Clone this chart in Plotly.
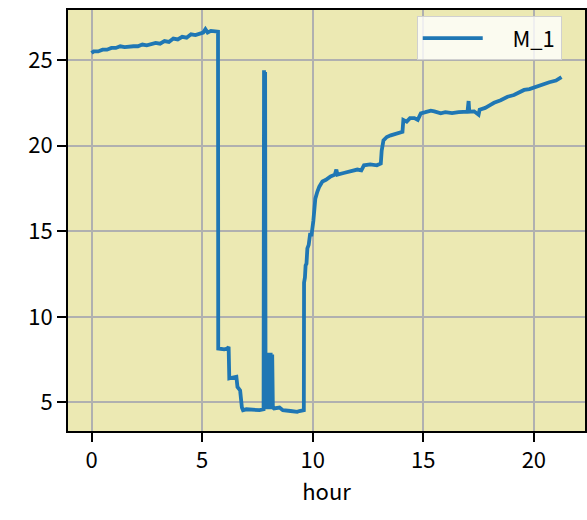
import plotly.graph_objects as go

# hourly readings for sensor M_1
hours = [0.0, 0.1, 0.3, 0.5, 0.7, 0.9, 1.1, 1.3, 1.5, 1.7, 1.9, 2.1, 2.3, 2.5, 2.7, 2.9,
         3.1, 3.3, 3.5, 3.7, 3.9, 4.1, 4.3, 4.5, 4.7, 4.9, 5.05, 5.15, 5.25, 5.4, 5.55, 5.72,
         5.73, 6.0, 6.15, 6.2, 6.23, 6.5, 6.55, 6.6, 6.72, 6.8, 6.85, 7.0, 7.3, 7.6, 7.78,
         7.8, 7.82, 7.85, 7.87, 7.9, 7.93, 7.96, 8.0, 8.03, 8.06, 8.1, 8.13, 8.17, 8.2, 8.25,
         8.5, 8.65, 9.0, 9.3, 9.4, 9.6, 9.61, 9.65, 9.68, 9.72, 9.76, 9.82, 9.88, 9.95, 10.03,
         10.07, 10.12, 10.21, 10.3, 10.44, 10.6, 10.81, 11.0, 11.07, 11.12, 11.4, 11.6, 11.8,
         12.02, 12.2, 12.32, 12.6, 12.9, 13.08, 13.12, 13.2, 13.35, 13.53, 13.7, 13.8, 14.06,
         14.1, 14.25, 14.4, 14.6, 14.75, 14.89, 15.1, 15.34, 15.5, 15.79, 16.0, 16.3, 16.6,
         17.0, 17.05, 17.08, 17.3, 17.5, 17.55, 17.8, 18.0, 18.2, 18.5, 18.81, 19.1, 19.35,
         19.56, 19.8, 20.1, 20.39, 20.7, 21.0, 21.15, 21.25]
m_1 = [25.4, 25.5, 25.5, 25.6, 25.6, 25.7, 25.7, 25.8, 25.75, 25.8, 25.8, 25.8, 25.9, 25.85,
       25.95, 26.0, 25.95, 26.1, 26.05, 26.25, 26.2, 26.35, 26.3, 26.5, 26.45, 26.55, 26.6,
       26.8, 26.6, 26.7, 26.65, 26.65,
       8.15, 8.1, 8.15, 8.25, 6.4, 6.45, 6.5, 5.9, 5.7, 4.7, 4.55, 4.6, 4.55, 4.55, 4.6,
       24.4, 4.6, 24.3, 4.7, 7.9, 4.6, 7.9, 4.7, 7.9, 4.6, 7.9, 4.7, 7.8, 4.7, 4.65,
       4.7, 4.55, 4.5, 4.45, 4.5, 4.55, 12.0, 12.3, 13.0, 13.1, 14.0, 14.2, 14.8, 14.8, 15.6,
       16.6, 16.9, 17.3, 17.6, 17.9, 18.0, 18.2, 18.3, 18.6, 18.3, 18.4, 18.45, 18.5,
       18.6, 18.55, 18.85, 18.9, 18.85, 18.95, 19.7, 20.3, 20.5, 20.6, 20.65, 20.7, 20.8,
       21.5, 21.4, 21.6, 21.6, 21.5, 21.88, 21.95, 22.04, 22.0, 21.88, 21.95, 21.9, 21.95,
       21.98, 22.6, 21.98, 22.0, 21.8, 22.1, 22.2, 22.35, 22.5, 22.65, 22.85, 22.95, 23.1,
       23.25, 23.3, 23.45, 23.55, 23.7, 23.8, 23.9, 24.0]

x_ticks = [0, 5, 10, 15, 20]
y_ticks = [5, 10, 15, 20, 25]


def padded(vals, frac=0.05):
    lo, hi = min(vals), max(vals)
    pad = (hi - lo) * frac
    return [lo - pad, hi + pad]


fig = go.Figure()
fig.add_trace(go.Scatter(x=hours, y=m_1, mode='lines', name='\u00a0\u00a0\u00a0\u00a0\u00a0M_1',
                         line=dict(color='#1f77b4', width=3.8)))

axis_style = dict(showline=True, linecolor='black', linewidth=2, mirror=True,
                  showgrid=True, gridcolor='#b0b0b0', gridwidth=2, zeroline=False,
                  ticks='outside', ticklen=9, tickwidth=2, tickcolor='black',
                  tickfont=dict(size=22, color='black'), automargin=False)

fig.update_xaxes(range=padded(hours), tickvals=x_ticks, title_text='hour',
                 title_font=dict(size=22, color='black'), title_standoff=10, **axis_style)
fig.update_yaxes(range=padded(m_1), tickvals=y_ticks, **axis_style)

fig.update_layout(
    width=587, height=520,
    margin=dict(l=68, r=2, t=10, b=89),
    paper_bgcolor='white',
    plot_bgcolor='#ece9b3',
    font=dict(family='Noto Sans CJK JP', color='black'),
    showlegend=True,
    legend=dict(x=0.955, y=0.985, xanchor='right', yanchor='top',
                bgcolor='rgba(255,255,255,0.8)', bordercolor='#d0d0d0', borderwidth=1,
                font=dict(size=22), itemwidth=60),
)

# drop the default 8px body margin so the figure fills the window
fig.write_html("out.html", config={'displayModeBar': False},
               post_script="document.body.style.margin='0';document.body.style.overflow='hidden';")
